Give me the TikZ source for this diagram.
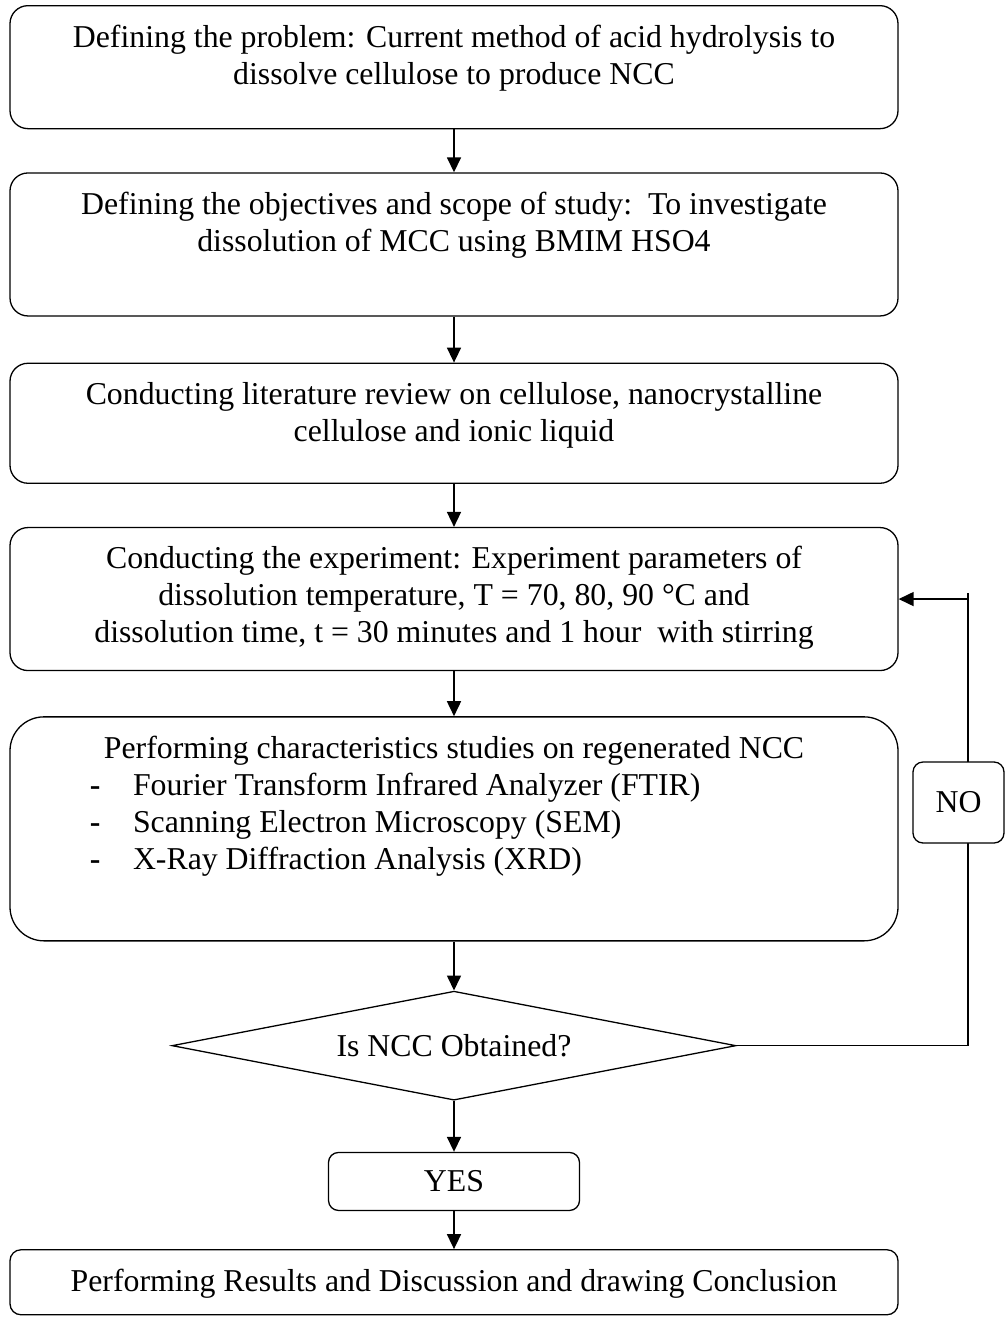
\documentclass[tikz,border=0pt]{standalone}
\usepackage{fontspec}
\setmainfont{Liberation Serif}
\usetikzlibrary{positioning,shapes.geometric,arrows.meta}

\newcommand{\stagetext}[2]{\parbox[c][#1][t]{860pt}{\centering #2}}
\newcommand{\listitem}[1]{\makebox[43pt][l]{\textbf{-}}#1}

\begin{document}
\begin{tikzpicture}[x=1pt,y=-1pt,
  every node/.style={font=\fontsize{31.8}{37}\selectfont},
  stage box/.style={draw,line width=1.3pt,rounded corners=#1,inner xsep=14pt,inner ysep=19pt},
  stage box/.default=18pt,
  answer box/.style={draw,fill=white,line width=1.3pt,rounded corners=10pt,inner sep=0pt},
  decision node/.style={diamond,draw,line width=1.3pt,inner sep=0pt,aspect=5.2,minimum width=564pt,minimum height=109pt},
  flow/.style={line width=1.6pt,-{Triangle[length=15pt,width=14pt]}}]
  \useasboundingbox (0,0) rectangle (1006,1326);

  \node[stage box,anchor=north] (problem) at (454,5) {\stagetext{85pt}{Defining the problem: Current method of acid hydrolysis to\\ dissolve cellulose to produce NCC}};
  \node[stage box,below=43pt of problem] (scope) {\stagetext{105pt}{Defining the objectives and scope of study:\ \ To investigate\\ dissolution of MCC using BMIM HSO4}};
  \node[stage box,below=46pt of scope] (review) {\stagetext{82pt}{Conducting literature review on cellulose, nanocrystalline\\ cellulose and ionic liquid}};
  \node[stage box,below=43pt of review] (experiment) {\stagetext{105pt}{Conducting the experiment: Experiment parameters of\\ dissolution temperature, T = 70, 80, 90 °C and\\ dissolution time, t = 30 minutes and 1 hour\ \ with stirring}};
  \node[stage box=34pt,below=45pt of experiment] (studies) {\stagetext{186pt}{Performing characteristics studies on regenerated NCC\par
    \raggedright\leftskip=66pt
    \listitem{Fourier Transform Infrared Analyzer (FTIR)}\par
    \listitem{Scanning Electron Microscopy (SEM)}\par
    \listitem{X-Ray Diffraction Analysis (XRD)}}};
  \node[decision node,below=49pt of studies] (check) {Is NCC Obtained?};
  \node[answer box,minimum width=251pt,minimum height=58pt,below=51pt of check] (yes) {YES};
  \node[stage box=11pt,below=38pt of yes] (results) {\stagetext{27pt}{Performing Results and Discussion and drawing Conclusion}};
  \coordinate (turn) at (968,593);

  \draw[flow] (problem) -- (scope);
  \draw[flow] (scope) -- (review);
  \draw[flow] (review) -- (experiment);
  \draw[flow] (experiment) -- (studies);
  \draw[flow] (studies) -- (check);
  \draw[flow] (check) -- (yes);
  \draw[flow] (yes) -- (results);

  % loop back when no NCC
  \draw[line width=1.3pt] (check.east) -| (turn);
  \draw[flow] (turn |- experiment.east) -- (experiment.east);
  \node[answer box,minimum width=91pt,minimum height=81pt] (no) at (958.5,802.5) {NO};
\end{tikzpicture}
\end{document}
